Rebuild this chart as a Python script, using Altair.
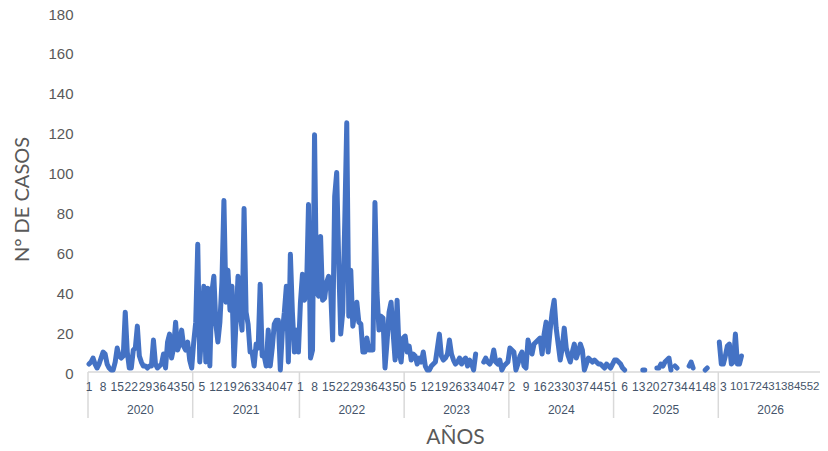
import altair as alt
import pandas as pd

# ---- data -------------------------------------------------------------
years = ["2020", "2021", "2022", "2023", "2024", "2025", "2026"]
weeks_per_year = [52, 53, 52, 52, 52, 52, 52]

cases_2020 = [4, 5, 7, 4, 2, 4, 7, 10, 9, 4, 2, 1, 1, 5, 12, 8, 7, 8, 30, 10,
              2, 2, 11, 12, 23, 8, 5, 3, 3, 2, 3, 3, 16, 4, 2, 3, 4, 9, 2, 15,
              19, 7, 12, 25, 11, 14, 21, 13, 11, 15, 6, 2]
cases_2021 = [15, 25, 64, 5, 20, 43, 5, 42, 3, 40, 48, 24, 15, 25, 45, 86, 35, 51, 31, 43,
              3, 25, 48, 30, 21, 82, 30, 24, 10, 10, 3, 14, 12, 44, 8, 8, 3, 21, 3, 12,
              24, 26, 26, 1, 20, 30, 43, 5, 59, 30, 10, 21, 10]
cases_2022 = [35, 49, 36, 40, 84, 7, 11, 119, 40, 38, 68, 36, 37, 45, 48, 41, 16, 88, 100, 55,
              19, 30, 75, 125, 28, 51, 23, 30, 35, 25, 24, 10, 10, 17, 11, 11, 11, 85, 40, 21,
              28, 27, 2, 15, 30, 35, 20, 6, 36, 10, 5, 17]
cases_2023 = [18, 10, 13, 6, 9, 8, 4, 7, 5, 10, 3, 1, 1, 3, 4, 5, 12, 19, 8, 6,
              7, 9, 16, 9, 6, 4, 5, 7, 4, 6, 7, 3, 6, 4, 1, 9, None, None, None, 5,
              7, 5, 4, 6, 11, 5, 4, 6, 1, 3, 4, 5]
cases_2024 = [12, 11, 10, 1, 4, 8, 10, 3, 2, 16, 12, 9, 14, 15, 16, 17, 9, 19, 25, 10,
              21, 30, 36, 22, 14, 6, 12, 22, 12, 8, 5, 10, 14, 7, 10, 14, 11, 1, 4, 7,
              6, 5, 6, 5, 4, 4, 3, 2, 4, 3, 2, 4]
cases_2025 = [6, 6, 5, 4, 2, 1, None, None, None, None, None, None, None, None, 1, 1,
              None, None, None, None, None, 2, 2, 4, 3, 5, 6, 7, 1, None, 3, 2,
              None, None, None, None, None, 3, 5, 2, None, None, None, None, None, 1, 2,
              None, None, None, None, None]
cases_2026 = [15, 4, 4, 8, 13, 14, 4, 5, 19, 4, 4, 8] + [None] * 40

series = [cases_2020, cases_2021, cases_2022, cases_2023, cases_2024, cases_2025, cases_2026]

y_ticks = [0, 20, 40, 60, 80, 100, 120, 140, 160, 180]

# ---- tables -----------------------------------------------------------
rows, week_lbl, year_lbl, bounds = [], [], [], [0]
idx = 0
for yr, n, vals in zip(years, weeks_per_year, series):
    start = idx
    for w in range(n):
        rows.append({"pos": idx + 0.5, "casos": vals[w]})
        if idx % 7 == 0:
            week_lbl.append({"pos": idx + 0.5, "label": str(w + 1), "year": yr})
        idx += 1
    year_lbl.append({"pos": start + n / 2, "label": yr})
    bounds.append(idx)

# the last year's labels (after its first) run together up to the right edge
last_year = [r for r in week_lbl if r["year"] == years[-1]]
tail = last_year[1:]
head = [r for r in week_lbl if r not in tail]
df_week = pd.DataFrame(head)
df_week_tail = pd.DataFrame([{"pos": tail[-1]["pos"],
                              "label": "".join(r["label"] for r in tail)}])

df = pd.DataFrame(rows)
df_year = pd.DataFrame(year_lbl)
df_bounds = pd.DataFrame({"b": bounds})
total = idx

W, H = 735, 359
xs = alt.Scale(domain=[0, total], nice=False, zero=False)
GRAY = "#d9d9d9"
TXT = "#595959"
CAT = "#44546A"

axis_line = alt.Chart(pd.DataFrame({"a": [0]})).mark_rule(color=GRAY, strokeWidth=1.5).encode(
    x=alt.value(0), x2=alt.value(W), y=alt.value(H)
)
seps = alt.Chart(df_bounds).mark_rule(color=GRAY, strokeWidth=1.5).encode(
    x=alt.X("b:Q", scale=xs, axis=None), y=alt.value(H), y2=alt.value(H + 46)
)
wk = alt.Chart(df_week).mark_text(font="Liberation Sans", fontSize=12, color=CAT,
                                  baseline="middle").encode(
    x=alt.X("pos:Q", scale=xs, axis=None), y=alt.value(H + 15), text="label:N"
)
wk_tail = alt.Chart(df_week_tail).mark_text(font="Liberation Sans", fontSize=11.5, color=CAT,
                                            baseline="middle", align="right", dx=-2.5).encode(
    x=alt.X("pos:Q", scale=xs, axis=None), y=alt.value(H + 15), text="label:N"
)
yl = alt.Chart(df_year).mark_text(font="Liberation Sans", fontSize=12, color=CAT,
                                  baseline="middle").encode(
    x=alt.X("pos:Q", scale=xs, axis=None), y=alt.value(H + 38), text="label:N"
)
xtitle = alt.Chart(pd.DataFrame({"t": ["AÑOS"]})).mark_text(
    font="Lato", fontSize=21, color=TXT, baseline="middle"
).encode(x=alt.value(W / 2), y=alt.value(H + 66), text="t:N")

line = alt.Chart(df).mark_line(color="#4472C4", strokeWidth=5, strokeCap="round",
                               strokeJoin="round").encode(
    x=alt.X("pos:Q", scale=xs, axis=None),
    y=alt.Y("casos:Q", scale=alt.Scale(domain=[0, 180], nice=False),
            axis=alt.Axis(values=y_ticks, grid=False, domain=False, ticks=False,
                          labelFont="Liberation Sans", labelFontSize=15, labelColor=TXT,
                          labelPadding=15, labelOffset=1, title="N° DE CASOS",
                          titleFont="Lato", titleFontSize=20, titleColor=TXT,
                          titleFontWeight="normal", titleX=-66, titleY=186,
                          titleAngle=270, titleAlign="center", titleBaseline="middle")),
)

chart = alt.layer(axis_line, seps, wk, wk_tail, yl, xtitle, line).properties(
    width=W, height=H,
    autosize=alt.AutoSizeParams(type="none"),
    padding={"left": 80, "top": 5, "right": -3, "bottom": 77},
).configure_view(strokeOpacity=0)

chart.save("out.html", embed_options={"renderer": "svg", "actions": False})
